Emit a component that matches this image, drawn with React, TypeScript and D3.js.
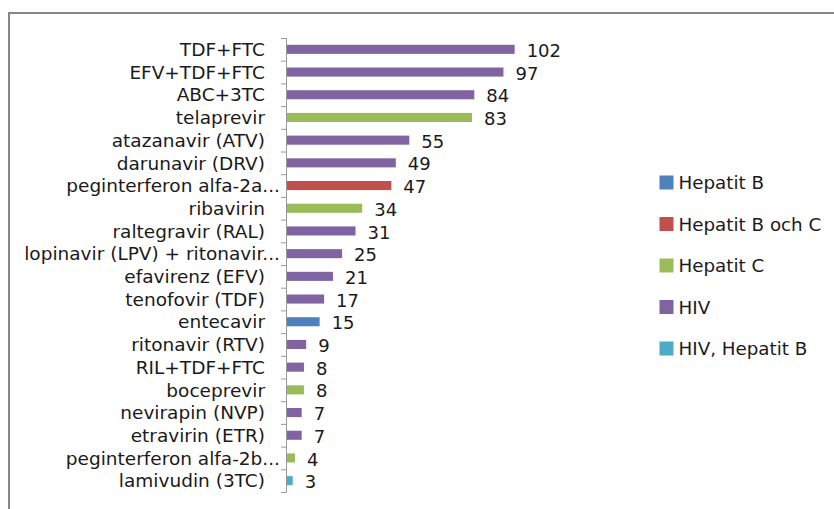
import * as d3 from 'd3';

const categories = [
  'TDF+FTC',
  'EFV+TDF+FTC',
  'ABC+3TC',
  'telaprevir',
  'atazanavir (ATV)',
  'darunavir (DRV)',
  'peginterferon alfa-2a...',
  'ribavirin',
  'raltegravir (RAL)',
  'lopinavir (LPV) + ritonavir...',
  'efavirenz (EFV)',
  'tenofovir (TDF)',
  'entecavir',
  'ritonavir (RTV)',
  'RIL+TDF+FTC',
  'boceprevir',
  'nevirapin (NVP)',
  'etravirin (ETR)',
  'peginterferon alfa-2b...',
  'lamivudin (3TC)',
];

const values = [102, 97, 84, 83, 55, 49, 47, 34, 31, 25, 21, 17, 15, 9, 8, 8, 7, 7, 4, 3];

const groups = [
  'HIV', 'HIV', 'HIV', 'Hepatit C', 'HIV', 'HIV', 'Hepatit B och C', 'Hepatit C',
  'HIV', 'HIV', 'HIV', 'HIV', 'Hepatit B', 'HIV', 'HIV', 'Hepatit C', 'HIV', 'HIV',
  'Hepatit C', 'HIV, Hepatit B',
];

const legendNames = ['Hepatit B', 'Hepatit B och C', 'Hepatit C', 'HIV', 'HIV, Hepatit B'];
const legendColors = ['#4F81BD', '#C0504D', '#9BBB59', '#8064A2', '#4BACC6'];

const W = 834;
const H = 509;
const FONT = '"DejaVu Sans", "Open Sans", sans-serif';
const TEXT = '#1a1a1a';

export default function App() {
  const x = d3.scaleLinear().domain([0, 120]).range([286, 555]);
  const y = d3
    .scaleBand<string>()
    .domain(categories)
    .range([38, 492])
    .paddingInner(0.6)
    .paddingOuter(0.3);
  const color = d3.scaleOrdinal<string, string>().domain(legendNames).range(legendColors);
  const ticks = d3.range(categories.length + 1).map((i) => 38 + (i * (492 - 38)) / categories.length);
  const legendY = d3.scalePoint<string>().domain(legendNames).range([182.5, 348.5]);
  const mid = (c: string) => (y(c) ?? 0) + y.bandwidth() / 2;

  return (
    <svg
      width={W}
      height={H}
      style={{ position: 'absolute', left: 0, top: 0, background: '#fff' }}
      fontFamily={FONT}
    >
      {/* chart border */}
      <rect x={9} y={13} width={W + 10} height={H + 10} fill="none" stroke="#878787" strokeWidth={2} />

      {/* bars */}
      {categories.map((c, i) => (
        <rect
          key={c}
          x={x(0)}
          y={y(c) ?? 0}
          width={x(values[i]) - x(0)}
          height={y.bandwidth()}
          fill={color(groups[i])}
        />
      ))}

      {/* axis */}
      <line x1={286.5} x2={286.5} y1={38} y2={492} stroke="#999" strokeWidth={1} />
      {ticks.map((t, i) => (
        <line key={i} x1={281} x2={286.5} y1={t + 0.5} y2={t + 0.5} stroke="#999" strokeWidth={1} />
      ))}

      {/* category labels (clipped ones run closer to the axis) */}
      {categories.map((c) => (
        <text
          key={c}
          x={c.endsWith('...') ? 280 : 265}
          y={mid(c)}
          dy="0.36em"
          textAnchor="end"
          fontSize={18.5}
          fill={TEXT}
        >
          {c}
        </text>
      ))}

      {/* value labels */}
      {categories.map((c, i) => (
        <text key={c} x={x(values[i]) + 12} y={mid(c)} dy="0.42em" fontSize={18} fill={TEXT}>
          {values[i]}
        </text>
      ))}

      {/* legend */}
      {legendNames.map((n, i) => (
        <g key={n} transform={`translate(659.5,${legendY(n)})`}>
          <rect x={0} y={-7} width={14} height={14} fill={legendColors[i]} />
          <text x={19} dy="0.37em" fontSize={18.3} fill={TEXT}>
            {n}
          </text>
        </g>
      ))}
    </svg>
  );
}
